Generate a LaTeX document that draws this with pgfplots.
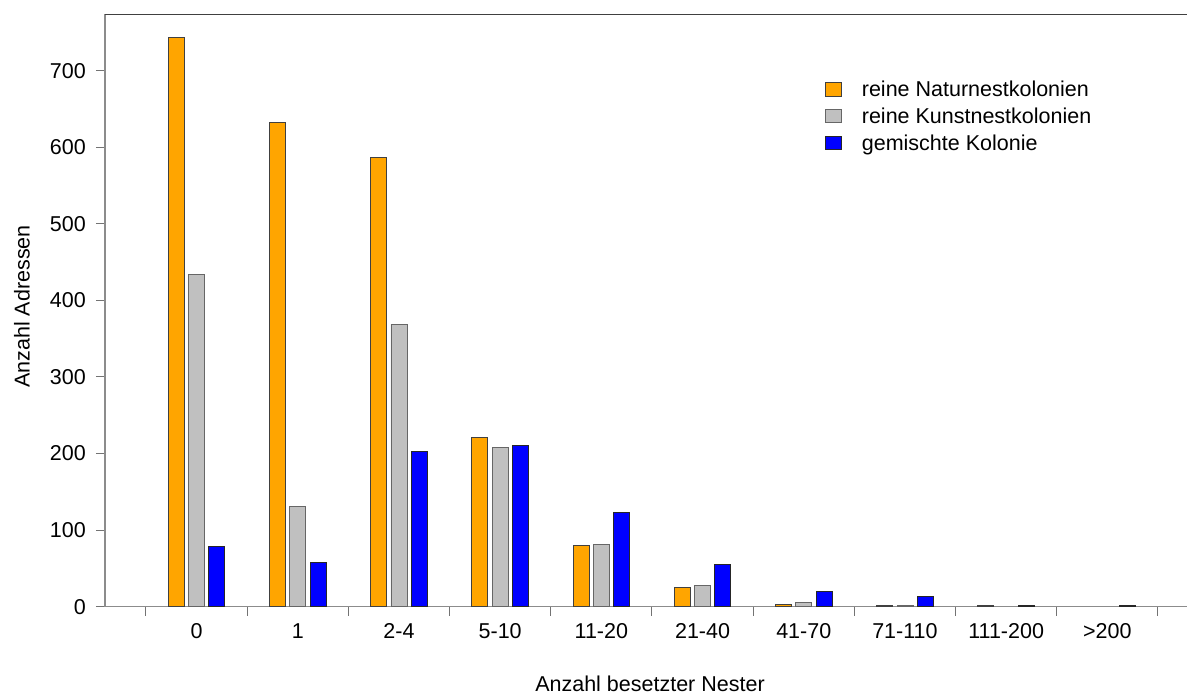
\documentclass[border=0pt]{standalone}
\usepackage{pgfplots}
\pgfplotsset{compat=1.18}
\usepackage{fontspec}
\setmainfont{Liberation Sans}

\definecolor{natur}{HTML}{FFA500}
\definecolor{kunst}{HTML}{C0C0C0}
\definecolor{gemischt}{HTML}{0000FF}
\definecolor{axisgray}{HTML}{8C8C8C}
\definecolor{framegray}{HTML}{404040}
\newcommand\chartfont{\fontsize{21.5}{26}\selectfont}

\begin{document}
\begin{tikzpicture}[x=1pt,y=1pt]
\begin{axis}[
  at={(0,0)}, anchor=south west,
  scale only axis, width=1082pt, height=592.4pt,
  xmin=-0.905, xmax=9.787, ymin=0, ymax=773.7,
  axis x line*=bottom, axis y line*=left,
  axis line style={axisgray, line width=1.3pt, -},
  ybar=4.3pt, bar width=16pt,
  xtick={0,...,9},
  xticklabels={0,1,2-4,5-10,11-20,21-40,41-70,71-110,111-200,>200},
  minor xtick={-0.5,0.5,...,9.5},
  ytick={0,100,...,700},
  tick align=outside,
  major tick length=9pt, minor tick length=9pt,
  tick style={black!55, line width=1pt},
  every major x tick/.append style={draw opacity=0},
  /pgf/number format/assume math mode=true,
  every tick label/.append style={font=\chartfont},
  yticklabel style={inner sep=0pt, xshift=-10pt},
  xticklabel style={inner sep=0pt, yshift=-8pt},
  xlabel={Anzahl besetzter Nester},
  ylabel={Anzahl Adressen},
  every axis x label/.style={at={(rel axis cs:0.5,0)}, anchor=north,
    inner sep=0pt, xshift=4pt, yshift=-69.5pt, font=\chartfont},
  every axis y label/.style={at={(rel axis cs:0,0.5)},
    xshift=-83pt, yshift=4pt, rotate=90, anchor=center, font=\chartfont},
  legend cell align=left,
  legend style={at={(rel axis cs:0.6654,0.8879)}, anchor=north west,
    draw=none, fill=none, inner sep=0pt, outer sep=0pt, row sep=5.7pt,
    font=\chartfont,
    nodes={inner sep=0pt, text height=16pt, text depth=5pt},
    /tikz/every odd column/.append style={column sep=20pt}},
  legend image code/.code={%
    \draw[#1, line width=0.9pt] (0pt,-4.75pt) rectangle (16pt,8.55pt);},
]
% frame line along the top of the plot area
\draw[framegray, line width=1.2pt] (rel axis cs:0,1) -- (rel axis cs:1,1);

\addplot[fill=natur, draw=black!75, line width=0.9pt]
  coordinates {(0,744) (1,632) (2,587) (3,221) (4,80) (5,25) (6,3) (7,1) (8,1)};
\addplot[fill=kunst, draw=black!60, line width=0.9pt]
  coordinates {(0,434) (1,131) (2,369) (3,208) (4,81) (5,28) (6,5) (7,1)};
\addplot[fill=gemischt, draw=black!85, line width=0.9pt]
  coordinates {(0,79) (1,58) (2,203) (3,211) (4,123) (5,55) (6,20) (7,13) (8,1) (9,1)};

\legend{reine Naturnestkolonien, reine Kunstnestkolonien, gemischte Kolonie}
\end{axis}
% page area: plot area plus the margins for labels
\pgfresetboundingbox
\path[use as bounding box] (-105,-88.3) rectangle (1082,606.7);
\end{tikzpicture}
\end{document}
